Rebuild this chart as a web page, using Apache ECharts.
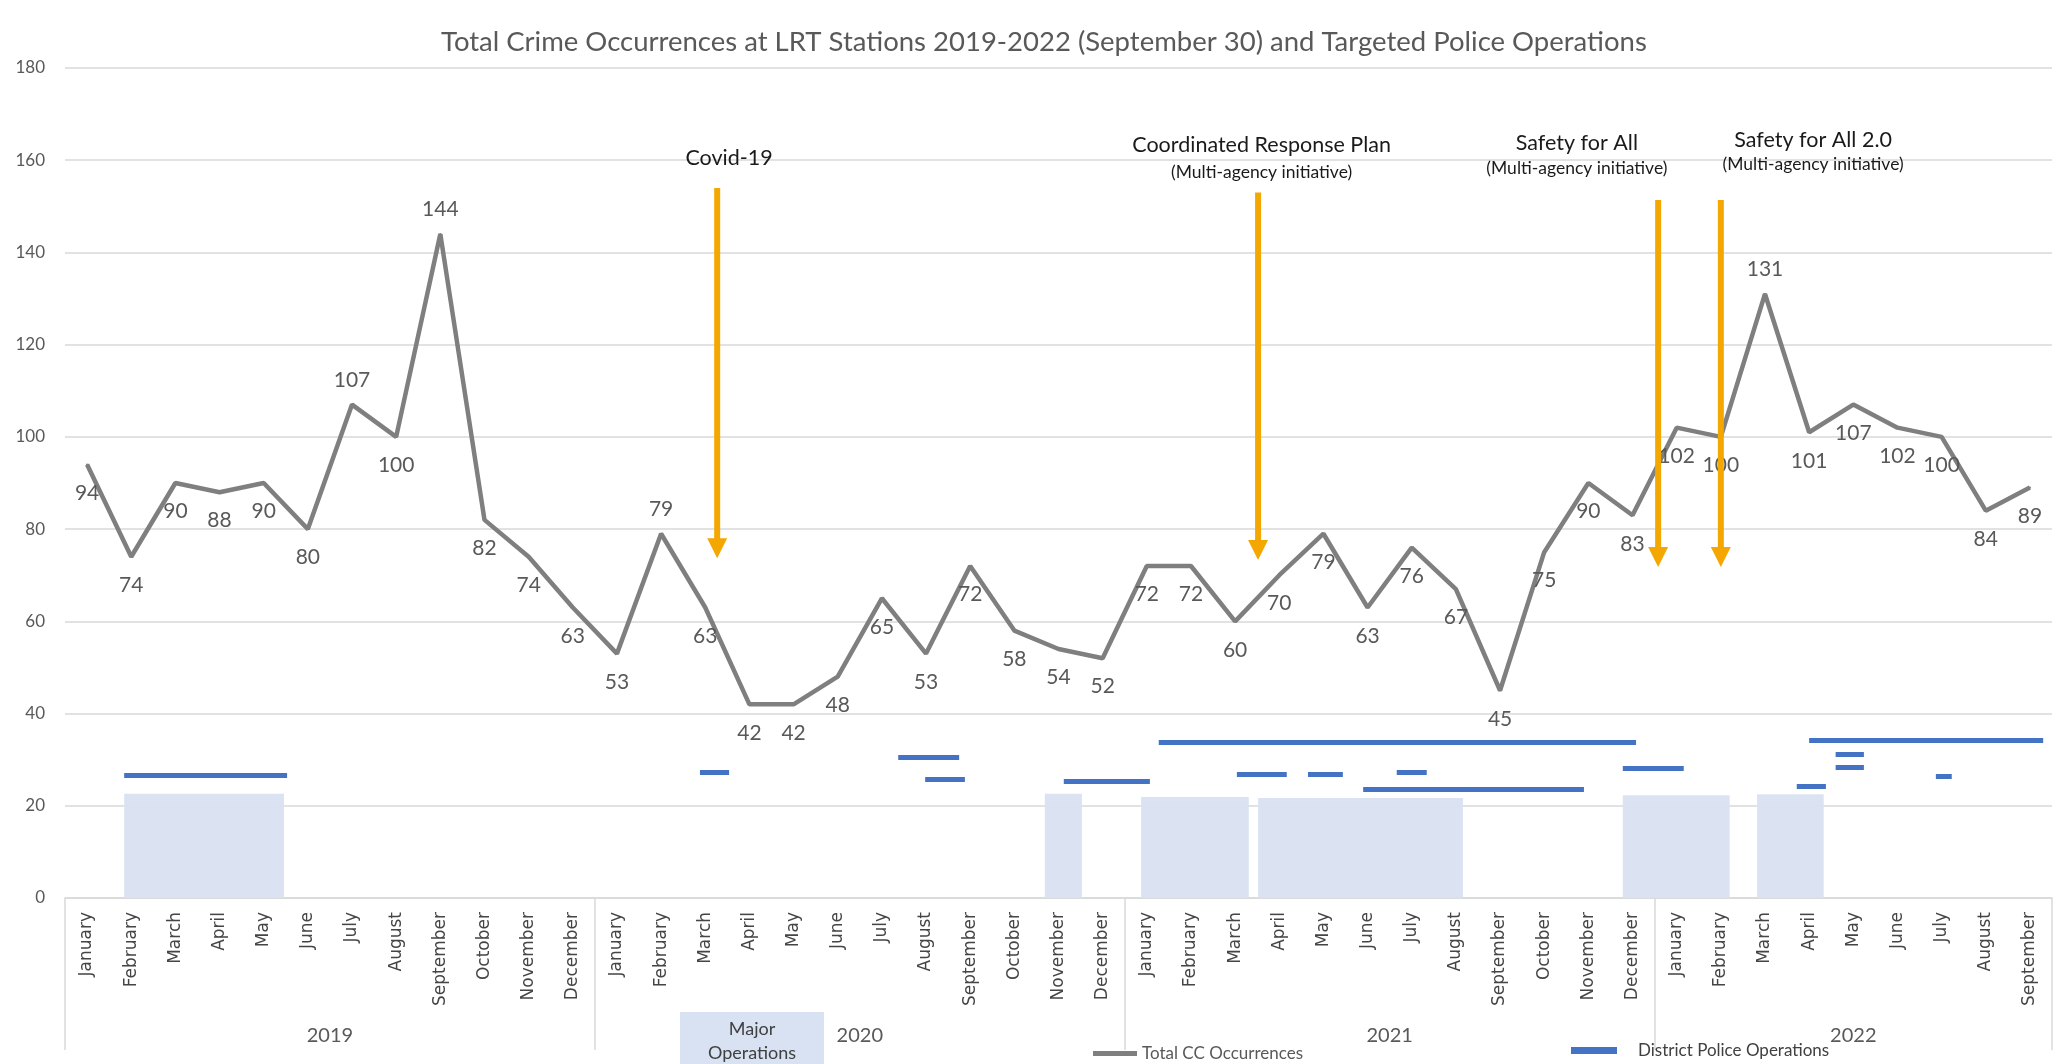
<!DOCTYPE html>
<html>
<head>
<meta charset="utf-8">
<script src="https://cdn.jsdelivr.net/npm/echarts@6/dist/echarts.min.js"></script>
<style>html,body{margin:0;padding:0;background:#fff}#c{width:2067px;height:1064px}</style>
</head>
<body>
<div id="c"></div>
<script>
// ---------- data ----------
const monthNames = ['January','February','March','April','May','June','July','August','September','October','November','December'];
const years = ['2019','2020','2021','2022'];
const yearMonthCounts = [12, 12, 12, 9];
const crimeCounts = [
  94, 74, 90, 88, 90, 80, 107, 100, 144, 82, 74, 63,
  53, 79, 63, 42, 42, 48, 65, 53, 72, 58, 54, 52,
  72, 72, 60, 70, 79, 63, 76, 67, 45, 75, 90, 83,
  102, 100, 131, 101, 107, 102, 100, 84, 89
];
const yTicks = { min: 0, max: 180, step: 20 };

// Major operations (shaded periods), in month-index units (0 = Jan 2019)
const majorOpsStart = [0.84, 21.69, 23.87, 26.52, 34.78, 37.82];
const majorOpsEnd   = [4.46, 22.53, 26.31, 31.16, 37.20, 39.33];
const majorOpsLevel = [22.6, 22.6, 21.9, 21.7, 22.3, 22.5];

// District police operations (horizontal bars)
const districtStart = [0.84, 13.88, 18.37, 18.98, 22.12, 24.27, 26.04, 27.65, 29.66, 28.90, 34.78, 39.00, 39.60, 39.60, 41.87, 38.72];
const districtEnd   = [4.53, 14.54, 19.75, 19.88, 24.07, 35.08, 27.17, 28.44, 30.34, 33.90, 36.16, 44.30, 40.24, 40.24, 42.23, 39.38];
const districtLevel = [26.7, 27.3, 30.6, 25.8, 25.4, 33.7, 26.9, 26.9, 27.3, 23.6, 28.2, 34.3, 31.2, 28.4, 26.5, 24.3];

// Event annotations
const eventNames     = ['Covid-19', 'Coordinated Response Plan', 'Safety for All', 'Safety for All 2.0'];
const eventSubtitles = ['', '(Multi-agency initiative)', '(Multi-agency initiative)', '(Multi-agency initiative)'];
const eventArrowX    = [14.27, 26.52, 35.58, 37.00];
const eventArrowTop  = [154.0, 153.0, 151.4, 151.4];
const eventArrowTip  = [73.7, 73.3, 71.8, 71.8];
const eventLabelX    = [14.54, 26.60, 33.74, 39.09];
const eventTitleY    = [160.4, 163.3, 163.7, 164.4];
const eventSubY      = [0, 157.4, 158.3, 159.0];

const labelsAbove = [6, 8, 13, 38];

// ---------- derived ----------
const categories = [];
years.forEach((y, k) => { for (let m = 0; m < yearMonthCounts[k]; m++) categories.push(monthNames[m]); });
const yearCenters = {};
let acc = 0;
years.forEach((y, k) => { yearCenters[(acc + (yearMonthCounts[k] - 1) / 2).toFixed(1)] = y; acc += yearMonthCounts[k]; });
const yearStartIdx = new Set();
acc = 0;
yearMonthCounts.forEach(c => { yearStartIdx.add(acc); acc += c; });
const nCat = categories.length;

const lineData = crimeCounts.map((v, i) => ({
  value: v,
  label: labelsAbove.includes(i) ? { position: 'top', distance: 13 } : { position: 'bottom', distance: 17 }
}));

const majorData = majorOpsStart.map((s, i) => [s, majorOpsEnd[i], majorOpsLevel[i]]);
const districtData = districtStart.map((s, i) => ({ coords: [[s, districtLevel[i]], [districtEnd[i], districtLevel[i]]] }));
const eventData = eventArrowX.map((x, i) => [x, eventArrowTop[i], eventArrowTip[i], eventLabelX[i], eventTitleY[i], eventSubY[i]]);

const ORANGE = '#F4A700';
const TXT = '#595959';

const chart = echarts.init(document.getElementById('c'));
chart.setOption({
  backgroundColor: '#ffffff',
  animation: false,
  title: {
    text: 'Total Crime Occurrences at LRT Stations 2019-2022 (September 30) and Targeted Police Operations',
    left: 436,
    top: 23,
    textStyle: { fontFamily: 'Lato', fontSize: 27.5, fontWeight: 'normal', color: TXT }
  },
  grid: { left: 65, right: 15, top: 68, bottom: 166, containLabel: false },
  legend: [
    {
      data: ['Total CC Occurrences'], left: 1088, top: 1040, icon: 'rect', itemWidth: 44, itemHeight: 5,
      textStyle: { fontFamily: 'Lato', fontSize: 17, color: TXT }
    },
    {
      data: ['District Police Operations'], left: 1566, top: 1037, icon: 'rect', itemWidth: 44, itemHeight: 5,
      textStyle: { fontFamily: 'Lato', fontSize: 17, color: '#404040', padding: [0, 0, 0, 17] }
    }
  ],
  xAxis: [
    {
      type: 'category', data: categories, position: 'bottom', boundaryGap: true,
      axisLine: { show: true, lineStyle: { color: '#D9D9D9', width: 1.5 } },
      axisTick: { show: true, length: 152, interval: (i) => yearStartIdx.has(i), lineStyle: { color: '#D9D9D9', width: 1.5 } },
      axisLabel: { interval: 0, rotate: 90, margin: 14, fontFamily: 'DejaVu Sans', fontSize: 17, color: '#454545' },
      splitLine: { show: false }
    },
    {
      type: 'value', position: 'bottom', min: -0.5, max: nCat - 0.5, interval: 0.5,
      axisLine: { show: false }, axisTick: { show: false }, splitLine: { show: false },
      axisLabel: { margin: 128, fontFamily: 'Lato', fontSize: 20, color: TXT, formatter: (v) => yearCenters[v.toFixed(1)] || '' }
    }
  ],
  yAxis: {
    type: 'value', min: yTicks.min, max: yTicks.max, interval: yTicks.step,
    axisLine: { show: false }, axisTick: { show: false },
    axisLabel: { margin: 20, fontFamily: 'Lato', fontSize: 17, color: TXT },
    splitLine: { lineStyle: { color: '#D9D9D9', width: 1.5 } }
  },
  graphic: [
    {
      type: 'group', left: 680, top: 1012,
      children: [
        { type: 'rect', shape: { x: 0, y: 0, width: 144, height: 60 }, style: { fill: '#D9E2F2' } },
        { type: 'text', x: 72, y: 17, style: { text: 'Major', fill: '#404040', font: '18px Lato', align: 'center', verticalAlign: 'middle' } },
        { type: 'text', x: 72, y: 41, style: { text: 'Operations', fill: '#404040', font: '18px Lato', align: 'center', verticalAlign: 'middle' } }
      ]
    }
  ],
  series: [
    {
      name: 'Major Operations', type: 'custom', xAxisIndex: 1, yAxisIndex: 0, z: 1,
      data: majorData,
      renderItem: (params, api) => {
        const p1 = api.coord([api.value(0), api.value(2)]);
        const p2 = api.coord([api.value(1), 0]);
        return { type: 'rect', shape: { x: p1[0], y: p1[1], width: p2[0] - p1[0], height: p2[1] - p1[1] }, style: { fill: '#D9E2F2', opacity: 0.95 } };
      }
    },
    {
      name: 'District Police Operations', type: 'lines', coordinateSystem: 'cartesian2d', xAxisIndex: 1, yAxisIndex: 0, z: 2,
      data: districtData, color: '#4472C4',
      lineStyle: { color: '#4472C4', width: 5, cap: 'butt', opacity: 1 }
    },
    {
      name: 'Total CC Occurrences', type: 'line', xAxisIndex: 0, yAxisIndex: 0, z: 3,
      data: lineData, color: '#7F7F7F',
      symbol: 'circle', symbolSize: 2, showSymbol: true,
      lineStyle: { color: '#7F7F7F', width: 4.5 },
      itemStyle: { color: '#7F7F7F' },
      label: { show: true, fontFamily: 'Lato', fontSize: 21, color: TXT }
    },
    {
      name: 'Events', type: 'custom', xAxisIndex: 1, yAxisIndex: 0, z: 5,
      data: eventData,
      renderItem: (params, api) => {
        const i = params.dataIndex;
        const top = api.coord([api.value(0), api.value(1)]);
        const tip = api.coord([api.value(0), api.value(2)]);
        const headLen = 20, headHalf = 10;
        const t = api.coord([api.value(3), api.value(4)]);
        const children = [
          { type: 'line', shape: { x1: top[0], y1: top[1], x2: tip[0], y2: tip[1] - headLen + 2 }, style: { stroke: ORANGE, lineWidth: 6 } },
          { type: 'polygon', shape: { points: [[tip[0] - headHalf, tip[1] - headLen], [tip[0] + headHalf, tip[1] - headLen], [tip[0], tip[1]]] }, style: { fill: ORANGE } },
          { type: 'text', x: t[0], y: t[1], style: { text: eventNames[i], fill: '#1A1A1A', font: '21.5px Lato', align: 'center', verticalAlign: 'middle' } }
        ];
        if (eventSubtitles[i]) {
          const s = api.coord([api.value(3), api.value(5)]);
          children.push({ type: 'text', x: s[0], y: s[1], style: { text: eventSubtitles[i], fill: '#1A1A1A', font: '17.5px Lato', align: 'center', verticalAlign: 'middle' } });
        }
        return { type: 'group', children };
      }
    }
  ]
});
</script>
</body>
</html>
